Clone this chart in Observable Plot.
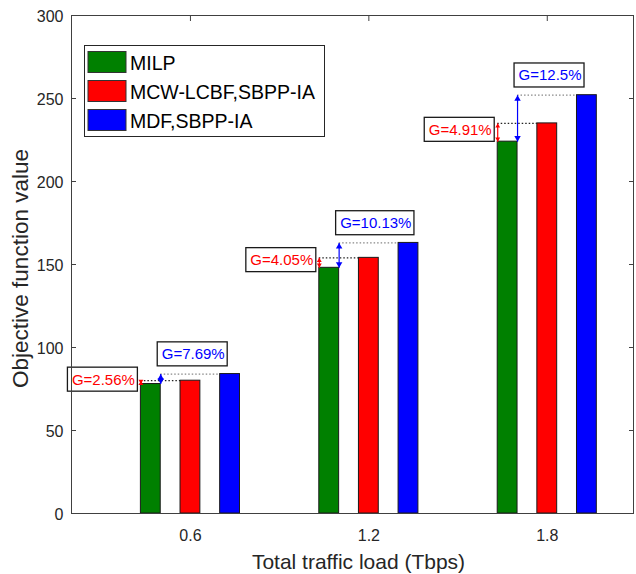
<!DOCTYPE html>
<html><head><meta charset="utf-8">
<script src="https://cdn.jsdelivr.net/npm/d3@7"></script>
<script src="https://cdn.jsdelivr.net/npm/@observablehq/plot@0.6"></script>
<style>
html,body{margin:0;padding:0;background:#fff;}
#chart{position:relative;width:636px;height:574px;}
</style></head><body><div id="chart"></div>
<script>
// ---- data ----
const loads = [0.6, 1.2, 1.8];
const xTickLabels = ["0.6", "1.2", "1.8"];
const series = ["MILP", "MCW-LCBF,SBPP-IA", "MDF,SBPP-IA"];
const milp = [78, 148, 224];
const mcw = [80, 154, 235];
const mdf = [84, 163, 252];
const gapRedLabels = ["G=2.56%", "G=4.05%", "G=4.91%"];
const gapBlueLabels = ["G=7.69%", "G=10.13%", "G=12.5%"];
const yTicks = [0, 50, 100, 150, 200, 250, 300];
const xLabel = "Total traffic load (Tbps)";
const yLabel = "Objective function value";
const colors = ["#008000", "#ff0000", "#0000ff"];

// ---- layout helpers ----
const FONT = "'Liberation Sans', Arial, Helvetica, sans-serif";
const off = 0.1333, bw = 0.0667;
const bars = loads.flatMap((l, i) => [milp[i], mcw[i], mdf[i]].map((v, j) => ({load: l, series: series[j], j, value: v})));
const rows = loads.map((l, i) => ({load: l, g: milp[i], r: mcw[i], b: mdf[i], redLabel: gapRedLabels[i], blueLabel: gapBlueLabels[i]}));
const gl = d => d.load - off - bw / 2;
const gr = d => d.load - off + bw / 2;
const rl = d => d.load - bw / 2;
const bl = d => d.load + off - bw / 2;
const rRed = 1.8, rBlue = 2.4;
const tip = r => 1.555 * r;
const TS = 5;

const plot = Plot.plot({
  width: 636, height: 574,
  marginTop: 15, marginLeft: 71, marginRight: 3, marginBottom: 61,
  style: {fontFamily: FONT, color: "#262626", background: "#fff", overflow: "visible"},
  x: {type: "linear", domain: [0.2, 2.09]},
  y: {domain: [0, 300]},
  color: {domain: series, range: colors},
  marks: [
    Plot.rect(bars, {x1: d => d.load + (d.j - 1) * off - bw / 2, x2: d => d.load + (d.j - 1) * off + bw / 2, y1: d => 0, y2: "value", fill: "series", stroke: "#1a1a1a", strokeWidth: 1}),
    // dotted level lines
    Plot.ruleY(rows, {y: "r", x1: gl, x2: rl, stroke: "#222", strokeDasharray: "1.5,2", strokeWidth: 1.2}),
    Plot.ruleY(rows, {y: "b", x1: gr, x2: bl, stroke: "#888", strokeDasharray: "1.5,2", strokeWidth: 1.2}),
    // red double arrows
    Plot.link(rows, {x1: gl, x2: gl, y1: "g", y2: "r", stroke: "#ff0000", strokeWidth: 1.2}),
    Plot.dot(rows, {x: gl, y: "r", symbol: "triangle", r: rRed, fill: "#ff0000", dy: tip(rRed)}),
    Plot.dot(rows, {x: gl, y: "g", symbol: "triangle", r: rRed, fill: "#ff0000", rotate: 180, dy: -tip(rRed)}),
    // blue double arrows
    Plot.link(rows, {x1: gr, x2: gr, y1: "g", y2: "b", stroke: "#0000ff", strokeWidth: 1.2}),
    Plot.dot(rows, {x: gr, y: "b", symbol: "triangle", r: rBlue, fill: "#0000ff", dy: tip(rBlue)}),
    Plot.dot(rows, {x: gr, y: "g", symbol: "triangle", r: rBlue, fill: "#0000ff", rotate: 180, dy: -tip(rBlue)}),
    // gap labels
    Plot.text(rows, {x: gl, y: d => (d.g + d.r) / 2, text: "redLabel", textAnchor: "end", dx: -6, dy: -2.5, fill: "#ff0000", fontSize: 15}),
    Plot.text(rows, {x: gr, y: "b", text: "blueLabel", textAnchor: "start", dx: 1, dy: -19.5, fill: "#0000ff", fontSize: 15}),
    // frame & axes
    Plot.frame({stroke: "#404040", strokeWidth: 1}),
    Plot.axisY({ticks: yTicks, anchor: "left", tickSize: 0, tickPadding: 8, fontSize: 16, label: null, dy: 1}),
    Plot.axisY({ticks: yTicks, anchor: "left", tickSize: TS, dx: TS, tickFormat: () => "", label: null, stroke: "#404040"}),
    Plot.axisY({ticks: yTicks, anchor: "right", tickSize: TS, dx: -TS, tickFormat: () => "", label: null, stroke: "#404040"}),
    Plot.axisX({ticks: loads, anchor: "bottom", tickSize: 0, tickPadding: 16, fontSize: 16, tickFormat: d => xTickLabels[loads.indexOf(d)], label: null}),
    Plot.axisX({ticks: loads, anchor: "top", tickSize: TS, dy: TS, tickFormat: () => "", label: null, stroke: "#404040"}),
    // axis titles
    Plot.text([yLabel], {text: d => d, frameAnchor: "left", rotate: -90, dx: -51, dy: 4, fontSize: 22.5, lineAnchor: "middle", textAnchor: "middle", fill: "#262626"}),
    Plot.text([xLabel], {text: d => d, frameAnchor: "bottom", dx: 6, dy: 48.5, fontSize: 21, lineAnchor: "middle", textAnchor: "middle", fill: "#262626"})
  ]
});

const chart = document.getElementById("chart");
chart.appendChild(plot);

// boxes behind gap labels
const NS = "http://www.w3.org/2000/svg";
Array.from(plot.querySelectorAll("text")).filter(t => t.textContent.startsWith("G=")).forEach(t => {
  const bb = t.getBBox();
  const rect = document.createElementNS(NS, "rect");
  const padL = 4.5, padR = 2.5, padV = 3.5;
  rect.setAttribute("x", bb.x - padL);
  rect.setAttribute("y", bb.y - padV);
  rect.setAttribute("width", bb.width + padL + padR);
  rect.setAttribute("height", bb.height + 2 * padV);
  if (t.getAttribute("transform")) rect.setAttribute("transform", t.getAttribute("transform"));
  rect.setAttribute("fill", "#fff");
  rect.setAttribute("stroke", "#1a1a1a");
  rect.setAttribute("stroke-width", "1.3");
  t.parentNode.insertBefore(rect, t);
});

// legend
const svg = d3.select(plot);
const lg = svg.append("g").attr("transform", "translate(84.5,45.5)").attr("text-anchor", "start");
lg.append("rect").attr("width", 240).attr("height", 91).attr("fill", "#fff").attr("stroke", "#262626").attr("stroke-width", 1);
series.forEach((s, i) => {
  lg.append("rect").attr("x", 3.5).attr("y", 6 + 29 * i).attr("width", 38).attr("height", 21)
    .attr("fill", colors[i]).attr("stroke", "#333").attr("stroke-width", 1);
  lg.append("text").attr("x", 45.5).attr("y", 6 + 29 * i + 11.5).attr("dy", "0.35em")
    .attr("text-anchor", "start").attr("font-size", 19.5).attr("fill", "#000").attr("font-family", FONT).text(s);
});
</script>
</body></html>
